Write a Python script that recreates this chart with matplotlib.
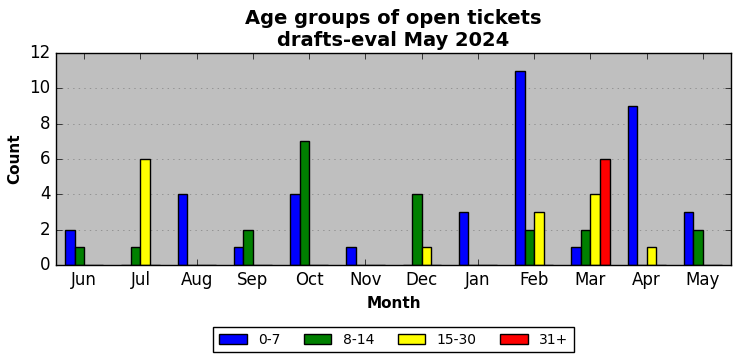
import numpy as np
import matplotlib.pyplot as plt

plt.style.use('classic')

months = ['Jun', 'Jul', 'Aug', 'Sep', 'Oct', 'Nov', 'Dec', 'Jan', 'Feb', 'Mar', 'Apr', 'May']
age_0_7 = [2, 0, 4, 1, 4, 1, 0, 3, 11, 1, 9, 3]
age_8_14 = [1, 1, 0, 2, 7, 0, 4, 0, 2, 2, 0, 2]
age_15_30 = [0, 6, 0, 0, 0, 0, 1, 0, 3, 4, 1, 0]
age_31 = [0, 0, 0, 0, 0, 0, 0, 0, 0, 6, 0, 0]

groups = [('0-7', age_0_7, 'blue'), ('8-14', age_8_14, 'green'),
          ('15-30', age_15_30, 'yellow'), ('31+', age_31, 'red')]

fig = plt.figure(figsize=(7.41, 3.61), dpi=100)
ax = fig.add_axes([56/741, 1 - 265/361, 675/741, 212/361])
ax.set_facecolor('#bfbfbf')

x = np.arange(len(months))
w = 0.17
for k, (label, vals, col) in enumerate(groups):
    ax.bar(x + (k - 2) * w, vals, w, align='edge', color=col,
           edgecolor='black', linewidth=1, label=label)

ax.set_xlim(-0.5, len(months) - 0.5)
ax.set_ylim(0, 12)
ax.set_xticks(x)
ax.set_xticklabels(months)
ax.yaxis.grid(True, linestyle=':', color='gray')
ax.set_axisbelow(True)
ax.set_xlabel('Month', fontweight='bold', fontsize=11)
ax.set_ylabel('Count', fontweight='bold', fontsize=11)
ax.set_title('Age groups of open tickets\ndrafts-eval May 2024', fontweight='bold', fontsize=14)
ax.legend(loc='upper center', bbox_to_anchor=(0.5, -0.26), ncol=4, fontsize=10,
          columnspacing=1.7)

plt.savefig('out.png', dpi=100)
